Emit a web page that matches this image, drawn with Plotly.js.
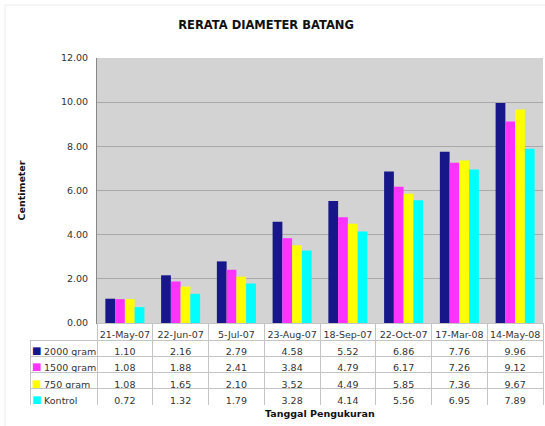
<!DOCTYPE html>
<html>
<head>
<meta charset="utf-8">
<script src="https://cdn.plot.ly/plotly-3.0.1.min.js"></script>
<style>html,body{margin:0;padding:0;background:#fff;}#chart{width:545px;height:426px;}</style>
</head>
<body>
<div id="chart"></div>
<script>
const categories = ['21-May-07','22-Jun-07','5-Jul-07','23-Aug-07','18-Sep-07','22-Oct-07','17-Mar-08','14-May-08'];
const seriesNames = ['2000 gram','1500 gram','750 gram','Kontrol'];
const s2000 = [1.10, 2.16, 2.79, 4.58, 5.52, 6.86, 7.76, 9.96];
const s1500 = [1.08, 1.88, 2.41, 3.84, 4.79, 6.17, 7.26, 9.12];
const s750  = [1.08, 1.65, 2.10, 3.52, 4.49, 5.85, 7.36, 9.67];
const sKontrol = [0.72, 1.32, 1.79, 3.28, 4.14, 5.56, 6.95, 7.89];
const yTicks = [0, 2, 4, 6, 8, 10, 12];

const colors = ['#17178a', '#ff33ff', '#ffff00', '#00ffff'];
const seriesValues = [s2000, s1500, s750, sKontrol];

const W = 545, H = 426;
const mL = 0, mR = 2, mT = 58, mB = 21;
const plotW = W - mL - mR, plotH = H - mT - mB;
const axisLeftPx = 97, axisBottomPx = 323, tableLeftPx = 30;
const yDomLow = (H - mB - axisBottomPx) / plotH;
const headerH = 17, rowH = 16.3;

const font = 'DejaVu Sans, Verdana, sans-serif';

const traces = seriesNames.map((name, i) => ({
  type: 'bar', name: name, x: categories, y: seriesValues[i],
  marker: {color: colors[i], line: {width: 0}},
  xaxis: 'x', yaxis: 'y', hoverinfo: 'skip'
}));

// non-breaking spaces keep each row label on one line
const labelCol = seriesNames.map(n => '\u00a0\u00a0' + n.replace(/ /g, '\u00a0'));
const valueCols = categories.map((c, j) => seriesValues.map(s => s[j].toFixed(2)));
const lineColors = ['rgba(0,0,0,0)'].concat(categories.map(() => '#c4c4c4'));
const headFill = ['rgba(0,0,0,0)'].concat(categories.map(() => 'white'));

traces.push({
  type: 'table',
  domain: {x: [tableLeftPx / plotW, 1], y: [0, yDomLow]},
  columnwidth: [67].concat(categories.map(() => 55.75)),
  header: {
    values: [''].concat(categories),
    align: 'center',
    height: headerH,
    line: {color: lineColors, width: 1},
    fill: {color: headFill},
    font: {family: font, size: 9.5, color: '#333'}
  },
  cells: {
    values: [labelCol].concat(valueCols),
    align: ['left'].concat(categories.map(() => 'center')),
    height: rowH,
    line: {color: '#c4c4c4', width: 1},
    fill: {color: 'white'},
    font: {family: font, size: 9.5, color: '#333'}
  }
});

const squareAnnots = seriesNames.map((n, i) => {
  const py = axisBottomPx + headerH + rowH * (i + 0.5) + 2.5;
  return {
    text: '■', xref: 'paper', yref: 'paper',
    x: 36 / plotW, y: (H - mB - py) / plotH, xanchor: 'center', yanchor: 'middle',
    showarrow: false, font: {family: font, size: 10, color: colors[i]}
  };
});

const layout = {
  width: W, height: H,
  margin: {l: mL, r: mR, t: mT, b: mB, pad: 0},
  paper_bgcolor: 'white',
  plot_bgcolor: '#d3d3d3',
  showlegend: false,
  barmode: 'group',
  bargap: 0.3,
  bargroupgap: 0,
  title: {text: '<b>RERATA DIAMETER BATANG</b>', x: 0.49, xref: 'paper', y: 1, yref: 'container', yanchor: 'top', pad: {t: 21},
          font: {family: font, size: 11.5, color: '#111'}},
  xaxis: {
    domain: [axisLeftPx / plotW, 1],
    showticklabels: false, ticks: '', showgrid: false,
    showline: true, linecolor: '#888', linewidth: 1, zeroline: false,
    fixedrange: true
  },
  yaxis: {
    domain: [yDomLow, 1],
    range: [0, 12], tickvals: yTicks, tickformat: '.2f',
    showgrid: true, gridcolor: '#a9a9a9', gridwidth: 1,
    showline: true, linecolor: '#888', linewidth: 1, zeroline: false,
    ticks: '', ticklabelstandoff: 6,
    tickfont: {family: font, size: 9.5, color: '#333'},
    title: {text: '<b>Centimeter</b>', standoff: 33, font: {family: font, size: 9.5, color: '#111'}},
    fixedrange: true
  },
  annotations: squareAnnots.concat([{
    text: '<b>Tanggal Pengukuran</b>', xref: 'paper', yref: 'paper',
    x: (axisLeftPx + (W - mR - axisLeftPx) / 2) / plotW, y: 0, yanchor: 'top', xanchor: 'center',
    yshift: -1, showarrow: false,
    font: {family: font, size: 9.5, color: '#111'}
  }]),
  shapes: [{
    type: 'rect', xref: 'paper', yref: 'paper',
    x0: 5 / plotW, x1: 1.01, y0: -0.1, y1: 1 + 53 / plotH,
    line: {color: '#ececec', width: 1}, fillcolor: 'rgba(0,0,0,0)', layer: 'below'
  }]
};

Plotly.newPlot('chart', traces, layout, {displayModeBar: false, staticPlot: true});
</script>
</body>
</html>
